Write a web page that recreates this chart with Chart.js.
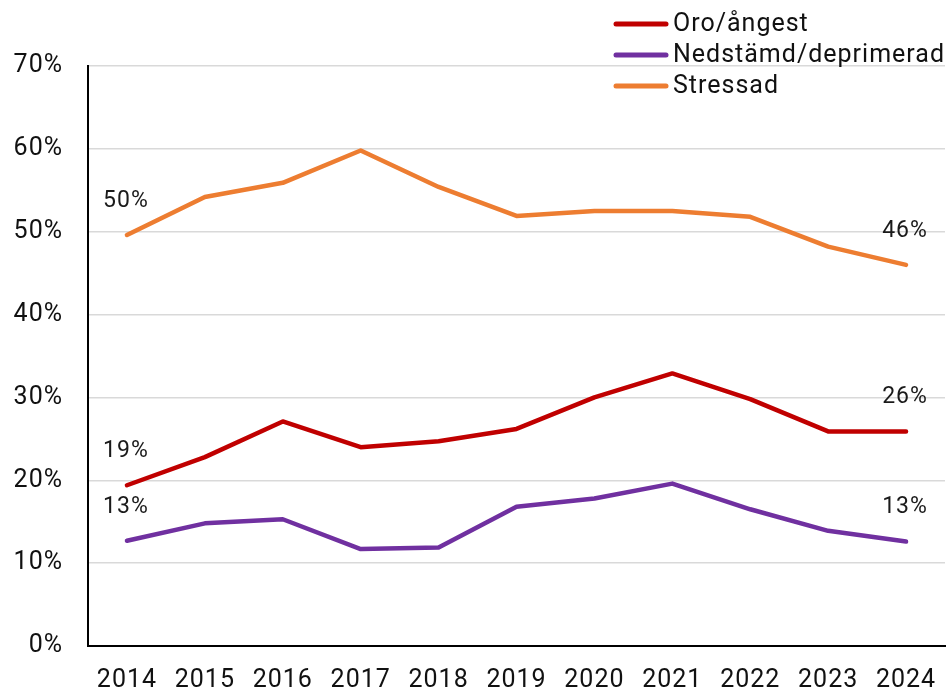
<!DOCTYPE html>
<html>
<head>
<meta charset="utf-8">
<script src="https://cdn.jsdelivr.net/npm/chart.js@4"></script>
<style>
  html, body { margin: 0; padding: 0; background: #fff; }
  #wrap { width: 948px; height: 694px; position: relative; }
</style>
</head>
<body>
<div id="wrap"><canvas id="trendChart" width="948" height="694"></canvas></div>
<script>
// Data (percent)
const years = ['2014', '2015', '2016', '2017', '2018', '2019', '2020', '2021', '2022', '2023', '2024'];
const oroAngest = [19.4, 22.8, 27.1, 24.0, 24.7, 26.2, 30.0, 32.9, 29.8, 25.9, 25.9];
const nedstamd = [12.7, 14.8, 15.3, 11.7, 11.9, 16.8, 17.8, 19.6, 16.5, 13.9, 12.6];
const stressad = [49.6, 54.2, 55.9, 59.8, 55.4, 51.9, 52.5, 52.5, 51.8, 48.2, 46.0];
const seriesNames = ['Oro/ångest', 'Nedstämd/deprimerad', 'Stressad'];
const seriesColors = ['#C00000', '#7030A0', '#ED7D31'];

const FONT = 'Roboto, "Noto Sans", sans-serif';
const ctx = document.getElementById('trendChart').getContext('2d');

// the original text is a bit wider spaced than plain Roboto
const spacing = {
    id: 'spacing',
    beforeDraw(chart) { chart.ctx.letterSpacing = '1px'; }
};

// Labels above the first and last point of each line
const endLabels = {
    id: 'endLabels',
    afterDatasetsDraw(chart) {
        const { ctx } = chart;
        ctx.save();
        ctx.font = '23px ' + FONT;
        ctx.letterSpacing = '1px';
        ctx.fillStyle = '#1a1a1a';
        ctx.textAlign = 'center';
        ctx.textBaseline = 'middle';
        chart.data.datasets.forEach((ds, i) => {
            const meta = chart.getDatasetMeta(i);
            [0, ds.data.length - 1].forEach(idx => {
                const pt = meta.data[idx];
                ctx.fillText(Math.round(ds.data[idx]) + '%', pt.x - 1, pt.y - 34);
            });
        });
        ctx.restore();
    }
};

// Legend drawn in the top right corner, overlapping the plot like the original
const cornerLegend = {
    id: 'cornerLegend',
    afterDraw(chart) {
        const { ctx } = chart;
        ctx.save();
        ctx.font = '25px ' + FONT;
        ctx.letterSpacing = '1px';
        ctx.textBaseline = 'middle';
        ctx.textAlign = 'left';
        seriesNames.forEach((name, i) => {
            const y = 24 + i * 31;
            ctx.strokeStyle = seriesColors[i];
            ctx.lineWidth = 5;
            ctx.lineCap = 'round';
            ctx.beginPath();
            ctx.moveTo(616, y);
            ctx.lineTo(666, y);
            ctx.stroke();
            ctx.fillStyle = '#111';
            ctx.fillText(name, 673, y + 1);
        });
        ctx.restore();
    }
};

function makeDataset(label, data, color) {
    return {
        label: label,
        data: data,
        borderColor: color,
        backgroundColor: color,
        borderWidth: 4.5,
        pointRadius: 0,
        tension: 0,
        borderCapStyle: 'round',
        borderJoinStyle: 'round'
    };
}

new Chart(ctx, {
    type: 'line',
    data: {
        labels: years,
        datasets: [
            makeDataset(seriesNames[0], oroAngest, seriesColors[0]),
            makeDataset(seriesNames[1], nedstamd, seriesColors[1]),
            makeDataset(seriesNames[2], stressad, seriesColors[2])
        ]
    },
    options: {
        responsive: false,
        animation: false,
        layout: { padding: { top: 66, right: 3, left: 0, bottom: 0 } },
        plugins: {
            legend: { display: false },
            tooltip: { enabled: false }
        },
        scales: {
            x: {
                offset: true,
                grid: { display: true, drawOnChartArea: false, drawTicks: false },
                border: { display: true, color: '#000', width: 2 },
                ticks: {
                    color: '#111',
                    padding: 20,
                    maxRotation: 0,
                    autoSkip: false,
                    font: { family: FONT, size: 25 }
                },
                afterFit: (scale) => {
                    scale.height = 48;
                    scale.paddingLeft = 0;
                    scale.paddingRight = 0;
                }
            },
            y: {
                min: 0,
                max: 70,
                grid: { color: '#d9d9d9', lineWidth: 1.5, drawTicks: false },
                border: { display: true, color: '#000', width: 2 },
                ticks: {
                    stepSize: 10,
                    color: '#111',
                    padding: 25,
                    font: { family: FONT, size: 25 },
                    callback: (v) => v + '%'
                },
                afterFit: (scale) => { scale.width = 88; }
            }
        }
    },
    plugins: [spacing, endLabels, cornerLegend]
});
</script>
</body>
</html>
